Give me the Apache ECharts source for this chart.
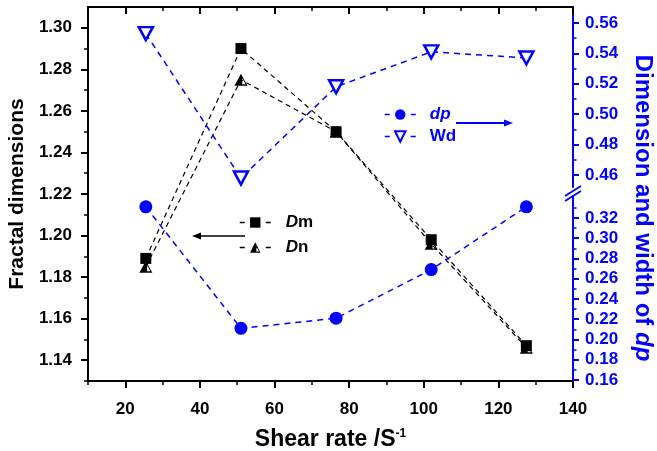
<!DOCTYPE html>
<html><head><meta charset="utf-8">
<script src="https://cdn.jsdelivr.net/npm/echarts@6/dist/echarts.min.js"></script>
<style>html,body{margin:0;padding:0;background:#fff}#c{width:657px;height:451px}</style>
</head><body><div id="c"></div>
<script>
// ---- data ----
const shearRate = [25.5, 51, 76.5, 102, 127.5];
const dmValues = [1.189, 1.290, 1.250, 1.198, 1.147];
const dnValues = [1.185, 1.275, 1.250, 1.196, 1.146];
const dpValues = [0.331, 0.211, 0.221, 0.269, 0.331];
const wdValues = [0.553, 0.458, 0.518, 0.541, 0.537];

// ---- tick labels ----
const xMajorTicks = [20, 40, 60, 80, 100, 120, 140];
const xMinorTicks = [10, 30, 50, 70, 90, 110, 130];
const leftMajorTicks = [1.14, 1.16, 1.18, 1.20, 1.22, 1.24, 1.26, 1.28, 1.30];
const leftMinorTicks = [1.13, 1.15, 1.17, 1.19, 1.21, 1.23, 1.25, 1.27, 1.29];
const upperMajorTicks = [0.46, 0.48, 0.50, 0.52, 0.54, 0.56];
const upperMinorTicks = [0.47, 0.49, 0.51, 0.53, 0.55];
const lowerMajorTicks = [0.16, 0.18, 0.20, 0.22, 0.24, 0.26, 0.28, 0.30, 0.32];
const lowerMinorTicks = [0.17, 0.19, 0.21, 0.23, 0.25, 0.27, 0.29, 0.31, 0.33];

const FONT = '"Liberation Sans", Arial, sans-serif';
const BLUE = '#0000ff';
const BLACK = '#000';

const pairs = (xs, ys) => xs.map((x, i) => [x, ys[i]]);

const HALF_TRI = 'path://M5,0 L5,10 L0,10 Z M5,0 L10,10 L5,10 Z M6,3.6 L6,8.8 L8.5,8.8 Z';
const INV_TRI = 'path://M0,0 L10,0 L5,10 Z';

function majorX(grid, pos, inside, ticks, len, w, showLine, label) {
  return {
    type: 'value', gridIndex: grid, position: pos, min: 10, max: 140,
    axisLine: { show: showLine, onZero: false, lineStyle: { color: BLACK, width: 2 } },
    axisTick: { show: true, inside: inside, customValues: ticks, length: len, lineStyle: { color: BLACK, width: w } },
    axisLabel: label ? {
      show: true, customValues: xMajorTicks, margin: 20,
      color: BLACK, fontFamily: FONT, fontWeight: 'bold', fontSize: 17
    } : { show: false },
    splitLine: { show: false }
  };
}

function yAx(grid, pos, min, max, color, ticks, len, w, showLine, labelOpt) {
  return {
    type: 'value', gridIndex: grid, position: pos, min: min, max: max,
    axisLine: { show: showLine, onZero: false, lineStyle: { color: color, width: 2 } },
    axisTick: { show: true, customValues: ticks, length: len, lineStyle: { color: color, width: w } },
    axisLabel: labelOpt ? Object.assign({
      show: true, customValues: ticks, color: color, fontFamily: FONT, fontWeight: 'bold', fontSize: 17,
      formatter: v => Number(v).toFixed(2)
    }, labelOpt) : { show: false },
    splitLine: { show: false }
  };
}

const chart = echarts.init(document.getElementById('c'), null, { renderer: 'canvas' });

const xAxes = [
  Object.assign(majorX(0, 'bottom', false, xMajorTicks, 7, 2, true, true), {
    name: 'Shear rate /S{sup|-1}', nameLocation: 'middle', nameGap: 47,
    nameTextStyle: {
      color: BLACK, fontFamily: FONT, fontWeight: 'bold', fontSize: 23,
      rich: { sup: { fontFamily: FONT, fontWeight: 'bold', fontSize: 12, verticalAlign: 'top', lineHeight: 13 } }
    }
  }),
  majorX(0, 'bottom', false, xMinorTicks, 4, 1.5, false, false),
  majorX(0, 'top', true, xMajorTicks, 7, 2, true, false),
  majorX(0, 'top', true, xMinorTicks, 4, 1.5, false, false),
  { type: 'value', gridIndex: 1, min: 10, max: 140, show: false },
  { type: 'value', gridIndex: 2, min: 10, max: 140, show: false },
  { type: 'value', gridIndex: 3, min: 10, max: 140, show: false }
];

const yAxes = [
  Object.assign(yAx(0, 'left', 1.13, 1.31, BLACK, leftMajorTicks, 7, 2, true, { margin: 16 }), {
    name: 'Fractal dimensions', nameLocation: 'middle', nameGap: 60,
    nameTextStyle: { color: BLACK, fontFamily: FONT, fontWeight: 'bold', fontSize: 21 }
  }),
  yAx(0, 'left', 1.13, 1.31, BLACK, leftMinorTicks, 4, 1.5, false, null),
  yAx(1, 'right', 0.4521, 0.5705, BLUE, upperMajorTicks, 6, 2, true, { margin: 12 }),
  yAx(1, 'right', 0.4521, 0.5705, BLUE, upperMinorTicks, 3.5, 1.5, false, null),
  yAx(2, 'right', 0.159, 0.3417, BLUE, lowerMajorTicks, 6, 2, true, { margin: 12 }),
  yAx(2, 'right', 0.159, 0.3417, BLUE, lowerMinorTicks, 3.5, 1.5, false, null),
  {
    type: 'value', gridIndex: 3, position: 'right', min: 0, max: 1,
    axisLine: { show: false }, axisTick: { show: false }, axisLabel: { show: false }, splitLine: { show: false },
    name: 'Dimension and width of {i|dp}', nameLocation: 'middle', nameGap: 58, nameRotate: -90,
    nameTextStyle: {
      color: BLUE, fontFamily: FONT, fontWeight: 'bold', fontSize: 24,
      rich: { i: { color: BLUE, fontFamily: FONT, fontWeight: 'bold', fontStyle: 'italic', fontSize: 24 } }
    }
  }
];

const legendText = (color, padLeft) => ({
  color: color, fontFamily: FONT, fontWeight: 'bold', fontSize: 17, padding: [0, 0, 0, padLeft],
  rich: {
    i: { color: color, fontFamily: FONT, fontWeight: 'bold', fontStyle: 'italic', fontSize: 17 },
    n: { color: color, fontFamily: FONT, fontWeight: 'bold', fontSize: 17 }
  }
});

const option = {
  animation: false,
  backgroundColor: '#fff',
  grid: [
    { left: 88, top: 7, width: 485, height: 374, outerBoundsMode: 'none', containLabel: false },
    { left: 88, top: 7, width: 485, height: 180, outerBoundsMode: 'none', containLabel: false },
    { left: 88, top: 196, width: 485, height: 185, outerBoundsMode: 'none', containLabel: false },
    { left: 88, top: 21, width: 485, height: 374, outerBoundsMode: 'none', containLabel: false }
  ],
  xAxis: xAxes,
  yAxis: yAxes,
  legend: [
    {
      data: ['Dm', 'Dn'], orient: 'vertical', left: 234, top: 209,
      itemWidth: 31, itemHeight: 13, itemGap: 8,
      lineStyle: { type: [5, 8], width: 1.5 },
      textStyle: legendText(BLACK, 10),
      formatter: n => n === 'Dm' ? '{i|D}{n|m}' : '{i|D}{n|n}'
    },
    {
      data: ['dp', 'Wd'], orient: 'vertical', left: 379, top: 101,
      itemWidth: 31, itemHeight: 13, itemGap: 5,
      lineStyle: { type: [5, 8], width: 1.5 },
      textStyle: legendText(BLUE, 9),
      formatter: n => n === 'dp' ? '{i|dp}' : '{n|Wd}'
    }
  ],
  series: [
    {
      name: 'Dm', type: 'line', xAxisIndex: 0, yAxisIndex: 0, data: pairs(shearRate, dmValues),
      symbol: 'rect', symbolSize: 11, clip: false,
      lineStyle: { color: BLACK, width: 1.2, type: [5, 4] }, itemStyle: { color: BLACK }
    },
    {
      name: 'Dn', type: 'line', xAxisIndex: 0, yAxisIndex: 0, data: pairs(shearRate, dnValues),
      symbol: HALF_TRI, symbolSize: [13, 12], clip: false,
      lineStyle: { color: BLACK, width: 1.2, type: [5, 4] }, itemStyle: { color: BLACK }
    },
    {
      name: 'dp', type: 'line', xAxisIndex: 5, yAxisIndex: 4, data: pairs(shearRate, dpValues),
      symbol: 'circle', symbolSize: 13, clip: false,
      lineStyle: { color: BLUE, width: 1.5, type: [6, 5] }, itemStyle: { color: BLUE }
    },
    {
      name: 'Wd', type: 'line', xAxisIndex: 4, yAxisIndex: 2, data: pairs(shearRate, wdValues),
      symbol: INV_TRI, symbolSize: [14, 13], clip: false,
      lineStyle: { color: BLUE, width: 1.5, type: [6, 5] },
      itemStyle: { color: '#fff', borderColor: BLUE, borderWidth: 2.5 }
    }
  ],
  graphic: [
    { type: 'line', shape: { x1: 565, y1: 196, x2: 581, y2: 186 }, style: { stroke: BLUE, lineWidth: 2 } },
    { type: 'line', shape: { x1: 565, y1: 201, x2: 581, y2: 191 }, style: { stroke: BLUE, lineWidth: 2 } },
    { type: 'line', shape: { x1: 245, y1: 236, x2: 198, y2: 236 }, style: { stroke: BLACK, lineWidth: 1.5 } },
    { type: 'polygon', shape: { points: [[192, 236], [201, 232.5], [201, 239.5]] }, style: { fill: BLACK } },
    { type: 'line', shape: { x1: 456, y1: 123, x2: 506, y2: 123 }, style: { stroke: BLUE, lineWidth: 2 } },
    { type: 'polygon', shape: { points: [[513, 123], [504, 119.5], [504, 126.5]] }, style: { fill: BLUE } }
  ]
};

chart.setOption(option);
</script>
</body></html>
